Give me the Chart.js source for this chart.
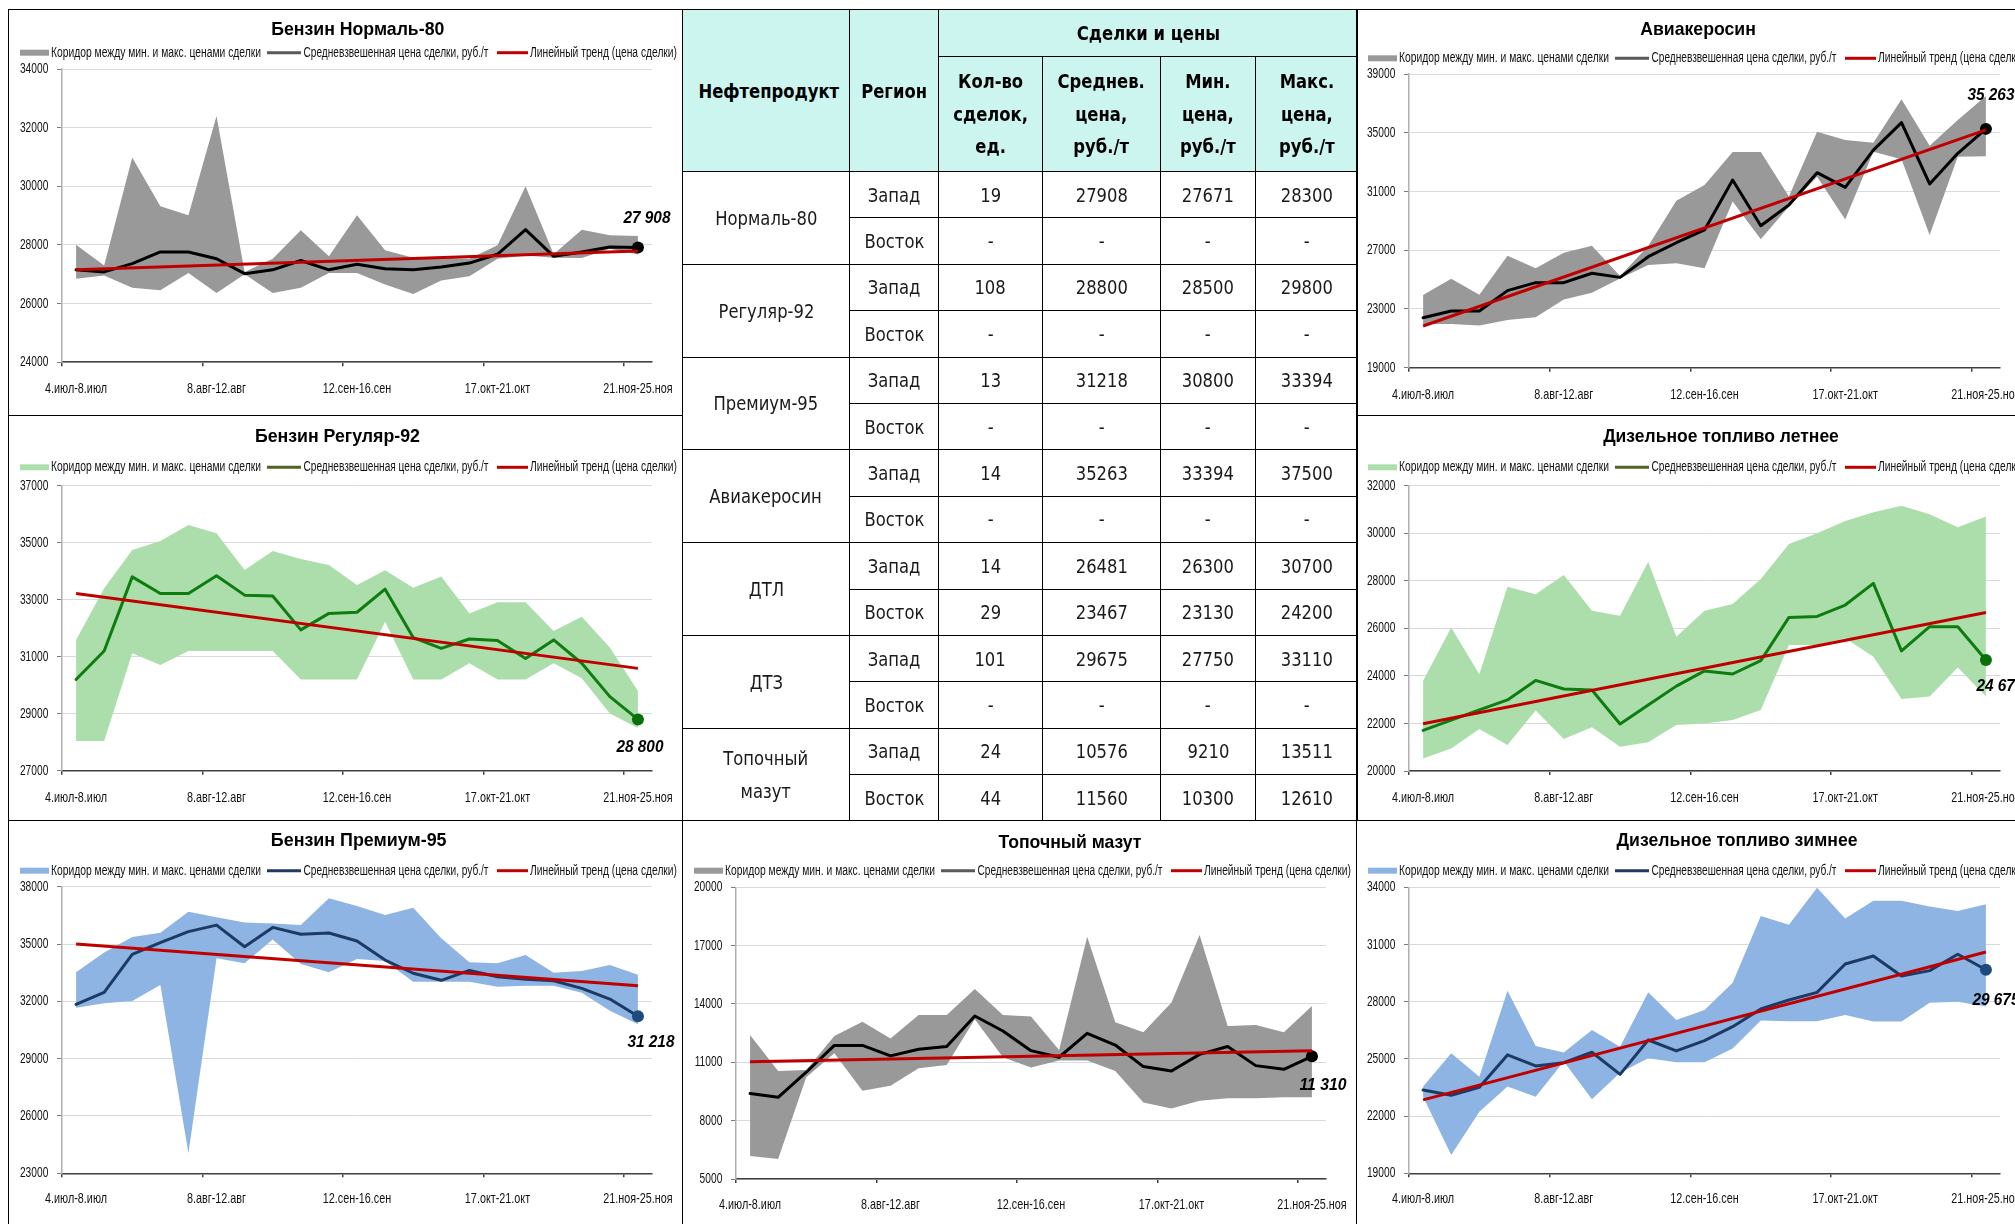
<!DOCTYPE html>
<html><head><meta charset="utf-8">
<script src="https://cdn.jsdelivr.net/npm/chart.js@4.4.1/dist/chart.umd.min.js"></script>
<style>
html,body{margin:0;padding:0;background:#fff;width:2015px;height:1224px;overflow:hidden;position:relative}
.pnl{position:absolute}
.ln{position:absolute;background:#000;z-index:5}
#tbl{position:absolute;left:682px;top:9px;width:675px;border-collapse:collapse;table-layout:fixed;font-family:"DejaVu Sans",Verdana,sans-serif;font-size:20px;color:#1a1a1a}
#tbl td{border:1px solid #000;text-align:center;vertical-align:middle;padding:0;overflow:hidden}
#tbl td>span{display:inline-block;transform:scaleX(0.82);white-space:nowrap}
#tbl tr.hd td{background:#ccf5f0;font-weight:bold;color:#000}
</style></head><body>
<div id="root"></div>
<script>
// ---------- DATA ----------
const weeks = ['4.июл-8.июл','11.июл-15.июл','18.июл-22.июл','25.июл-29.июл','1.авг-5.авг','8.авг-12.авг','15.авг-19.авг','22.авг-26.авг','29.авг-2.сен','5.сен-9.сен','12.сен-16.сен','19.сен-23.сен','26.сен-30.сен','3.окт-7.окт','10.окт-14.окт','17.окт-21.окт','24.окт-28.окт','31.окт-4.ноя','7.ноя-11.ноя','14.ноя-18.ноя','21.ноя-25.ноя'];

const legendTexts = ['Коридор между мин. и макс. ценами сделки','Средневзвешенная цена сделки, руб./т','Линейный тренд (цена сделки)'];

const n80Avg = [27150,27080,27360,27760,27760,27530,27020,27150,27470,27150,27340,27190,27150,27250,27380,27680,28520,27610,27760,27930,27908];
const n80Max = [28010,27300,30980,29320,29010,32400,27080,27530,28500,27610,29010,27820,27560,27560,27530,27990,30000,27680,28520,28330,28300];
const n80Min = [26850,26960,26540,26450,27040,26360,27000,26360,26540,27040,27040,26650,26330,26790,26930,27530,27640,27560,27550,27870,27671];
const n80Trend = [27150,27790];

const r92Avg = [30200,31200,33800,33220,33220,33840,33160,33130,31940,32520,32560,33370,31670,31290,31620,31570,30940,31590,30770,29600,28800];
const r92Max = [31590,33400,34740,35060,35620,35330,34040,34710,34430,34220,33520,34030,33420,33810,32520,32910,32910,31900,32400,31320,29800];
const r92Min = [28040,28040,31120,30710,31200,31200,31200,31200,30200,30200,30200,32230,30200,30200,30770,30200,30200,30770,30240,29010,28500];
const r92Trend = [33220,30590];

const p95Avg = [31840,32470,34460,35070,35650,35990,34860,35870,35510,35580,35160,34160,33470,33100,33620,33290,33150,33080,32680,32120,31218];
const p95Max = [33520,34550,35370,35590,36690,36400,36120,36080,35990,37390,36990,36520,36900,35300,34040,33990,34420,33500,33590,33900,33394];
const p95Min = [31670,31900,32020,32860,24050,34250,33990,35240,33950,33520,34220,34110,33030,33030,33030,32770,32820,32820,32450,31510,30800];
const p95Trend = [35000,32820];

const jetAvg = [22400,22860,22860,24250,24790,24790,25430,25150,26560,27510,28380,31780,28670,30080,32280,31280,33820,35690,31510,33600,35263];
const jetMax = [23950,25060,23970,26630,25770,26830,27310,25240,27290,30370,31440,33690,33690,30650,35070,34510,34320,37280,34120,35870,37500];
const jetMin = [21970,21970,21880,22250,22430,23650,24110,25080,25990,26110,25770,30310,27740,29970,32010,29100,33710,33190,28040,33370,33394];
const jetTrend = [21840,35190];

const dtlAvg = [21710,22140,22570,22990,23810,23450,23410,21980,22780,23570,24210,24080,24640,26460,26500,26980,27890,25050,26070,26070,24670];
const dtlMax = [23800,26040,24070,27750,27430,28240,26740,26530,28800,25650,26740,27020,28080,29550,30000,30510,30880,31160,30800,30250,30700];
const dtlMin = [20530,20950,21770,21090,22540,21350,21840,21020,21210,21930,22000,22140,22570,25300,25300,25580,24810,23030,23130,24350,23130];
const dtlTrend = [21990,26670];

const dtzAvg = [23370,23090,23510,25210,24630,24800,25350,24190,25990,25420,25960,26690,27620,28090,28490,29980,30400,29350,29630,30490,29675];
const dtzMax = [23550,25290,24070,28580,25680,25330,26520,25640,28490,27040,27570,29000,32500,32030,33980,32370,33300,33300,32990,32760,33110];
const dtzMin = [23020,19960,22230,23550,23020,24860,22880,24280,25030,24820,24820,25540,27010,26970,26970,27300,26960,26960,27950,28000,27750];
const dtzTrend = [22850,30610];

const foAvg = [9400,9200,10490,11870,11870,11330,11670,11810,13380,12610,11600,11260,12490,11890,10780,10550,11410,11810,10830,10640,11310];
const foMax = [12400,10550,10600,12350,13090,12230,13430,13430,14770,13430,13350,11630,17460,13060,12540,14070,17550,12870,12920,12540,13900];
const foMin = [6180,6030,10230,11460,9540,9800,10690,10860,13210,11260,10740,11090,11090,10550,8930,8630,9030,9150,9150,9200,9210];
const foTrend = [11030,11600];

// table
const tblTop = ['Нефтепродукт','Регион','Сделки и цены'];
const tblCols = [['Кол-во','сделок,','ед.'],['Среднев.','цена,','руб./т'],['Мин.','цена,','руб./т'],['Макс.','цена,','руб./т']];
const products = [['Нормаль-80'],['Регуляр-92'],['Премиум-95'],['Авиакеросин'],['ДТЛ'],['ДТЗ'],['Топочный','мазут']];
const regions = ['Запад','Восток'];
const tableRows = [
  ['19','27908','27671','28300'],['-','-','-','-'],
  ['108','28800','28500','29800'],['-','-','-','-'],
  ['13','31218','30800','33394'],['-','-','-','-'],
  ['14','35263','33394','37500'],['-','-','-','-'],
  ['14','26481','26300','30700'],['29','23467','23130','24200'],
  ['101','29675','27750','33110'],['-','-','-','-'],
  ['24','10576','9210','13511'],['44','11560','10300','12610']
];

// ---------- STYLE / LAYOUT ----------
const FAM = '"Liberation Sans",Arial,sans-serif';
Chart.defaults.font.family = FAM;
const themes = {
  grey:  {band:'#999999', line:'#000000', dot:'#000000', leg:'#595959', grid:'#d5dbe5'},
  green: {band:'#acdeac', line:'#0e7c0e', dot:'#0a6e0a', leg:'#4f6228', grid:'#d9d9d9'},
  blue:  {band:'#8db4e2', line:'#1c3a64', dot:'#1f4a7e', leg:'#1f3864', grid:'#d9d9d9'}
};
const PW = 674, PLOT_R = 644, XH = 40;
const charts = [
  {title:'Бензин Нормаль-80', x:8, y:9, h:406, top:60, bottom:353.2, tx:349.8, ty:20.3, tw:173, ly:43.7, lg:27, left:54, min:24000, max:34000, step:2000, th:'grey', avg:n80Avg, mn:n80Min, mx:n80Max, tr:n80Trend, dx:9, dy:-29},
  {title:'Бензин Регуляр-92', x:8, y:415, h:405, top:70.7, bottom:355.7, tx:329.4, ty:21.7, tw:165, ly:52.3, lg:27, left:54, min:27000, max:37000, step:2000, th:'green', avg:r92Avg, mn:r92Min, mx:r92Max, tr:r92Trend, dx:2, dy:28},
  {title:'Бензин Премиум-95', x:8, y:820, h:404, top:66.7, bottom:353.3, tx:350.7, ty:20.7, tw:175.7, ly:50.7, lg:25.5, left:54, min:23000, max:38000, step:3000, th:'blue', avg:p95Avg, mn:p95Min, mx:p95Max, tr:p95Trend, dx:13, dy:26},
  {title:'Авиакеросин', x:1356, y:9, h:406, top:65, bottom:358.7, tx:342, ty:20.3, tw:115.7, ly:49.3, lg:27, left:53, min:19000, max:39000, step:4000, th:'grey', avg:jetAvg, mn:jetMin, mx:jetMax, tr:jetTrend, dx:5, dy:-34},
  {title:'Дизельное топливо летнее', x:1356, y:415, h:405, top:70.7, bottom:356, tx:365, ty:21.7, tw:235.7, ly:52.3, lg:27, left:53, min:20000, max:32000, step:2000, th:'green', avg:dtlAvg, mn:dtlMin, mx:dtlMax, tr:dtlTrend, dx:14, dy:26},
  {title:'Дизельное топливо зимнее', x:1356, y:820, h:404, top:67.3, bottom:353.3, tx:381, ty:20.7, tw:241, ly:50.7, lg:25.5, left:53, min:19000, max:34000, step:3000, th:'blue', avg:dtzAvg, mn:dtzMin, mx:dtzMax, tr:dtzTrend, dx:10, dy:31},
  {title:'Топочный мазут', x:682, y:820, h:404, top:67.3, bottom:359, tx:388, ty:22.7, tw:143, ly:50.7, lg:25.5, left:54, min:5000, max:20000, step:3000, th:'grey', avg:foAvg, mn:foMin, mx:foMax, tr:foTrend, dx:11, dy:29}
];

// draw text; w = target width (fit) or sx = horizontal scale factor
function drawText(c, t, x, y, o) {
  c.save(); c.font = o.font; c.fillStyle = o.color || '#1a1a1a'; c.textBaseline = 'middle'; c.textAlign = 'left';
  const m = c.measureText(t).width;
  const s = o.w ? o.w / m : (o.sx || 1);
  c.translate(x, y); c.scale(s, 1);
  const off = o.align === 'center' ? -m / 2 : (o.align === 'right' ? -m : 0);
  c.fillText(t, off, 0); c.restore();
}
function fmt(v){ return String(Math.round(v)).replace(/\B(?=(\d{3})+(?!\d))/g, ' '); }

function makeDeco(cfg) {
  const T = themes[cfg.th];
  return {
    id: 'deco',
    afterDatasetsDraw(chart) {
      const c = chart.ctx;
      const meta = chart.getDatasetMeta(2);
      const p = meta.data[meta.data.length - 1];
      drawText(c, fmt(cfg.avg[cfg.avg.length - 1]), p.x + cfg.dx, p.y + cfg.dy, {w: 47, font: 'italic bold 17px ' + FAM, color: '#000', align: 'center'});
    },
    afterDraw(chart) {
      const c = chart.ctx;
      // axis tick labels, placed by the library's scales
      const xs = chart.scales.x, ys = chart.scales.y;
      ys.ticks.forEach((t, i) => {
        drawText(c, String(t.value), chart.chartArea.left - 13.7, ys.getPixelForTick(i), {sx: 0.68, font: '15px ' + FAM, color: '#111', align: 'right'});
      });
      xs.ticks.forEach((t, i) => {
        if (i % 5 !== 0) return;
        drawText(c, weeks[i], xs.getPixelForTick(i), chart.chartArea.bottom + cfg.lg, {sx: 0.72, font: '15px ' + FAM, color: '#111', align: 'center'});
      });
      // title
      drawText(c, cfg.title, cfg.tx, cfg.ty, {w: cfg.tw, font: 'bold 19px ' + FAM, color: '#000', align: 'center'});
      // legend
      const y = cfg.ly;
      c.save();
      c.fillStyle = T.band; c.fillRect(12, y - 3, 29, 6);
      c.lineWidth = 3; c.lineCap = 'butt';
      c.strokeStyle = T.leg; c.beginPath(); c.moveTo(259, y); c.lineTo(293, y); c.stroke();
      c.strokeStyle = '#c00000'; c.beginPath(); c.moveTo(489, y); c.lineTo(520, y); c.stroke();
      c.restore();
      const f = '14px ' + FAM;
      drawText(c, legendTexts[0], 43, y, {w: 210, font: f, color: '#111'});
      drawText(c, legendTexts[1], 295.5, y, {w: 185, font: f, color: '#111'});
      drawText(c, legendTexts[2], 522, y, {w: 147, font: f, color: '#111'});
    }
  };
}

const root = document.getElementById('root');
charts.forEach(cfg => {
  const T = themes[cfg.th];
  const cv = document.createElement('canvas');
  cv.width = PW; cv.height = cfg.h;
  cv.className = 'pnl';
  cv.style.left = cfg.x + 'px'; cv.style.top = cfg.y + 'px';
  root.appendChild(cv);
  const last = cfg.avg.length - 1;
  const trendData = cfg.avg.map((v, i) => i === 0 ? cfg.tr[0] : (i === last ? cfg.tr[1] : null));
  new Chart(cv, {
    type: 'line',
    data: {
      labels: weeks,
      datasets: [
        {data: cfg.mx, fill: '+1', backgroundColor: T.band, borderColor: 'transparent', borderWidth: 0, pointRadius: 0, tension: 0, order: 5},
        {data: cfg.mn, fill: false, borderColor: 'transparent', borderWidth: 0, pointRadius: 0, tension: 0, order: 5},
        {data: cfg.avg, fill: false, borderColor: T.line, borderWidth: 3, tension: 0, borderJoinStyle: 'round', borderCapStyle: 'round',
         pointRadius: ctx => ctx.dataIndex === last ? 6 : 0, pointBackgroundColor: T.dot, pointBorderWidth: 0, order: 2},
        {data: trendData, fill: false, borderColor: '#c00000', borderWidth: 3, spanGaps: true, pointRadius: 0, tension: 0, order: 1}
      ]
    },
    options: {
      responsive: false, animation: false, events: [],
      layout: {padding: {left: 0, top: cfg.top, right: PW - PLOT_R, bottom: cfg.h - cfg.bottom - XH}},
      plugins: {legend: {display: false}, title: {display: false}, tooltip: {enabled: false}},
      scales: {
        x: {
          type: 'category', offset: true,
          grid: {display: true, drawOnChartArea: false, drawTicks: true, tickLength: 4, offset: true, lineWidth: 1.5,
                 color: c => (c.index !== undefined && c.index % 5 === 0) ? '#404040' : 'rgba(0,0,0,0)'},
          border: {display: true, color: '#404040', width: 1.5},
          ticks: {display: false, autoSkip: false, maxRotation: 0, minRotation: 0},
          afterFit: s => { s.height = XH; s.paddingLeft = 0; s.paddingRight = 0; }
        },
        y: {
          min: cfg.min, max: cfg.max,
          ticks: {display: false, stepSize: cfg.step},
          grid: {color: T.grid, drawTicks: true, tickLength: 5, tickColor: '#7a7a7a', lineWidth: 1},
          border: {display: true, color: '#b0b0b0', width: 1.5},
          afterFit: s => { s.width = cfg.left; s.paddingTop = 0; s.paddingBottom = 0; }
        }
      }
    },
    plugins: [makeDeco(cfg)]
  });
});

// table
const tbl = document.createElement('table'); tbl.id = 'tbl';
const cg = document.createElement('colgroup');
[167, 89, 104, 118, 95, 102].forEach(w => { const col = document.createElement('col'); col.style.width = w + 'px'; cg.appendChild(col); });
tbl.appendChild(cg);
function cell(tr, lines, opts) {
  const td = document.createElement('td');
  if (opts && opts.rs) td.rowSpan = opts.rs;
  if (opts && opts.cs) td.colSpan = opts.cs;
  const sp = document.createElement('span');
  lines.forEach((l, i) => { if (i) sp.appendChild(document.createElement('br')); sp.appendChild(document.createTextNode(l)); });
  if (opts && opts.lh) sp.style.lineHeight = opts.lh;
  td.appendChild(sp); tr.appendChild(td); return td;
}
let tr = document.createElement('tr'); tr.className = 'hd'; tr.style.height = '47px';
cell(tr, [tblTop[0]], {rs: 2}); cell(tr, [tblTop[1]], {rs: 2}); cell(tr, [tblTop[2]], {cs: 4});
tbl.appendChild(tr);
tr = document.createElement('tr'); tr.className = 'hd'; tr.style.height = '115px';
tblCols.forEach(c => cell(tr, c, {lh: '32.5px'}));
tbl.appendChild(tr);
tableRows.forEach((row, i) => {
  tr = document.createElement('tr'); tr.style.height = '46.4px';
  if (i % 2 === 0) { const p = products[i / 2]; cell(tr, p, {rs: 2, lh: p.length > 1 ? '33px' : 'normal'}); }
  cell(tr, [regions[i % 2]]);
  row.forEach(v => cell(tr, [v]));
  tbl.appendChild(tr);
});
root.appendChild(tbl);

// panel borders
function ln(x, y, w, h) { const d = document.createElement('div'); d.className = 'ln'; Object.assign(d.style, {left: x + 'px', top: y + 'px', width: w + 'px', height: h + 'px'}); root.appendChild(d); }
ln(8, 9, 2007, 1); ln(8, 9, 1, 1215);
ln(8, 415, 674, 1); ln(1356, 415, 659, 1);
ln(8, 820, 2007, 1);
ln(682, 9, 1, 1215); ln(1356, 9, 1, 1215);
</script>
</body></html>
